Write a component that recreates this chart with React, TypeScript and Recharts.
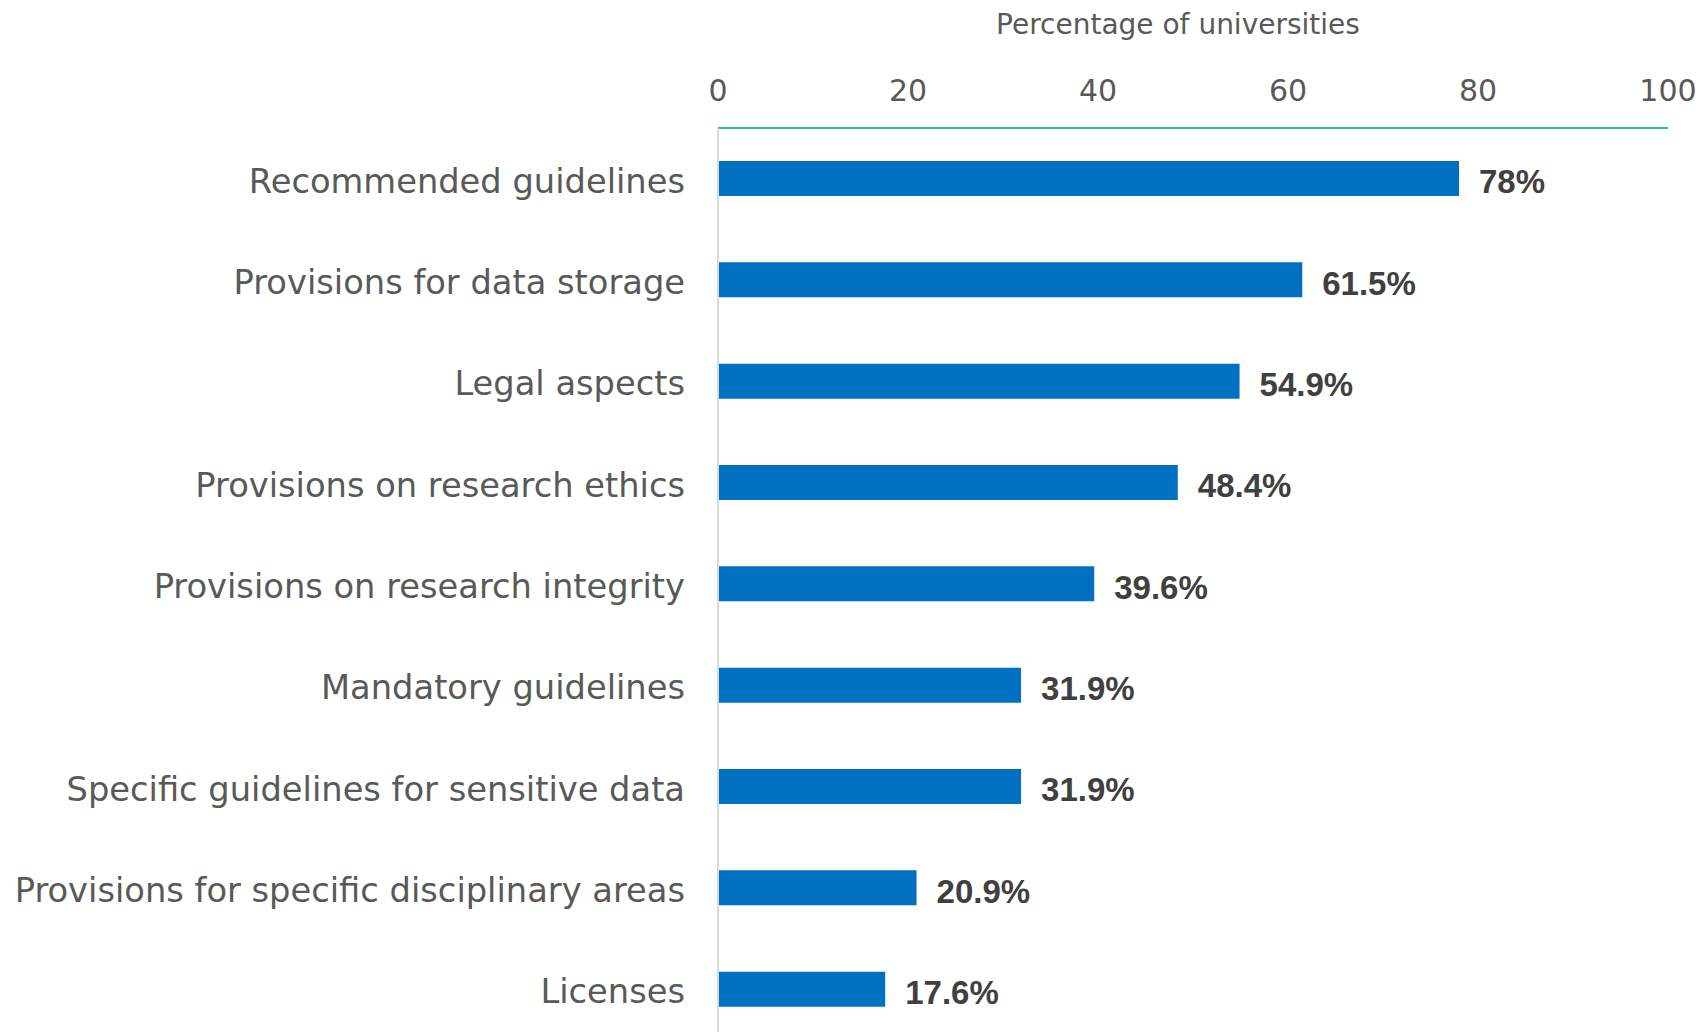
import React from 'react'
import { BarChart, Bar, XAxis, YAxis, LabelList, Label } from 'recharts'

const categories = [
  'Recommended guidelines',
  'Provisions for data storage',
  'Legal aspects',
  'Provisions on research ethics',
  'Provisions on research integrity',
  'Mandatory guidelines',
  'Specific guidelines for sensitive data',
  'Provisions for specific disciplinary areas',
  'Licenses'
]
const shares = [78, 61.5, 54.9, 48.4, 39.6, 31.9, 31.9, 20.9, 17.6]
const xTicks = [0, 20, 40, 60, 80, 100]

const data = categories.map((name, i) => ({ name, share: shares[i] }))

const tickFont = { fontFamily: 'DejaVu Sans, Verdana, sans-serif', fill: '#595959' }

export default function App() {
  return (
    <div style={{ position: 'absolute', left: 0, top: 0, background: '#fff' }}>
      <BarChart
        width={1702}
        height={1040}
        data={data}
        layout="vertical"
        margin={{ top: 0, right: 34, left: 0, bottom: 0 }}
      >
        <XAxis
          type="number"
          orientation="top"
          domain={[0, 100]}
          ticks={xTicks}
          height={128}
          axisLine={{ stroke: '#1DC39A', strokeWidth: 2 }}
          tickLine={false}
          tickSize={0}
          tickMargin={27}
          tick={{ ...tickFont, fontSize: 30 }}
        >
          <Label
            value="Percentage of universities"
            position="insideTop"
            offset={14}
            dx={-15}
            style={{ ...tickFont, fontSize: 28 }}
          />
        </XAxis>
        <YAxis
          type="category"
          dataKey="name"
          width={718}
          axisLine={{ stroke: '#D9D9D9', strokeWidth: 2 }}
          tickLine={false}
          tickSize={0}
          tickMargin={33}
          interval={0}
          tick={{ ...tickFont, fontSize: 33.7, dy: 2 }}
        />
        <Bar dataKey="share" fill="#0070C0" barSize={35} isAnimationActive={false}>
          <LabelList
            dataKey="share"
            position="right"
            offset={20}
            formatter={(v: any) => `${v}%`}
            style={{
              fontFamily: 'Liberation Sans, Arial, sans-serif',
              fontWeight: 'bold',
              fontSize: 33,
              fill: '#404040',
              transform: 'translateY(3px)'
            }}
          />
        </Bar>
      </BarChart>
    </div>
  )
}
